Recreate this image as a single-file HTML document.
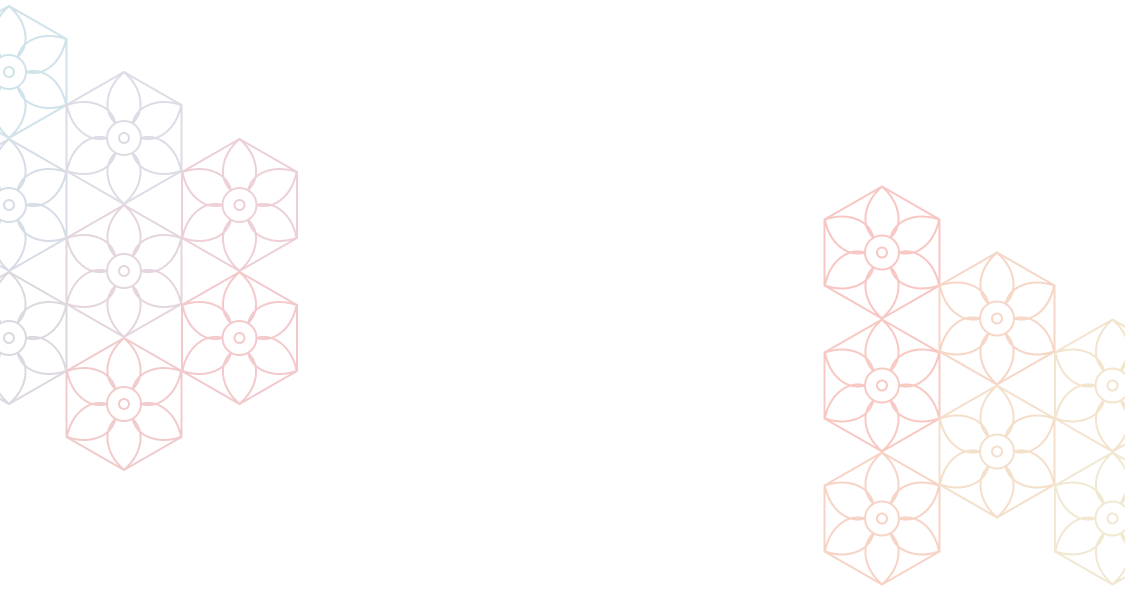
<!DOCTYPE html>
<html><head><style>html,body{margin:0;padding:0;background:#fff;width:1125px;height:590px;overflow:hidden}</style></head>
<body>
<svg width="1125" height="590" viewBox="0 0 1125 590" xmlns="http://www.w3.org/2000/svg">
<defs>
<g id="f" fill="none" stroke-width="2" stroke-linejoin="round">
<polygon points="0,-66 57.5,-33 57.5,33 0,66 -57.5,33 -57.5,-33"/>
<circle r="17"/><circle r="5"/>
<g id="p"><path d="M-8.5,-14.7 C-22,-28 -18,-50 0,-66 C18,-50 22,-28 8.5,-14.7"/></g>
<use href="#p" transform="rotate(60)"/>
<use href="#p" transform="rotate(120)"/>
<use href="#p" transform="rotate(180)"/>
<use href="#p" transform="rotate(240)"/>
<use href="#p" transform="rotate(300)"/>
</g>
</defs>
<use href="#f" x="9" y="72" stroke="#d0e2ea"/>
<use href="#f" x="9" y="205" stroke="#d6dde6"/>
<use href="#f" x="9" y="338" stroke="#ddd8e0"/>
<use href="#f" x="124" y="138" stroke="#dddce6"/>
<use href="#f" x="124" y="271" stroke="#e4d5de"/>
<use href="#f" x="124" y="404" stroke="#f1cbcc"/>
<use href="#f" x="239.5" y="205" stroke="#edd0d6"/>
<use href="#f" x="239.5" y="338" stroke="#f3c9cc"/>
<use href="#f" x="882" y="252.5" stroke="#f8c6c3"/>
<use href="#f" x="882" y="385.5" stroke="#f8c9c3"/>
<use href="#f" x="882" y="518.5" stroke="#f7d3c5"/>
<use href="#f" x="997" y="318.5" stroke="#f6d6c6"/>
<use href="#f" x="997" y="451.5" stroke="#f4dfcb"/>
<use href="#f" x="1112.5" y="385.5" stroke="#f3e4cd"/>
<use href="#f" x="1112.5" y="518.5" stroke="#f1e8d1"/>
</svg>
</body></html>
